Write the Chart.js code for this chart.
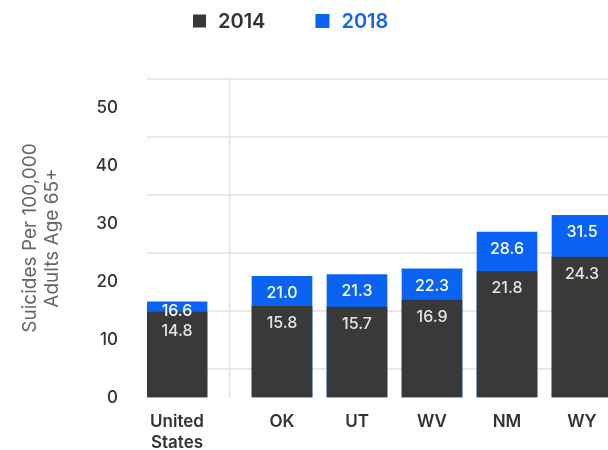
<!DOCTYPE html>
<html>
<head>
<meta charset="utf-8">
<script src="https://cdn.jsdelivr.net/npm/chart.js@4"></script>
<style>
  html, body { margin: 0; padding: 0; background: #fff; overflow: hidden; }
  #wrap { width: 645px; height: 450px; }
</style>
</head>
<body>
<div id="wrap"><canvas id="chart" width="645" height="450"></canvas></div>
<script>
// ---- data ----
const categories = [['United', 'States'], 'OK', 'UT', 'WV', 'NM', 'WY'];
const seriesLabels = ['2014', '2018'];
const rate2014 = [14.8, 15.8, 15.7, 16.9, 21.8, 24.3];
const rate2018 = [16.6, 21.0, 21.3, 22.3, 28.6, 31.5];
const yTickLabels = [0, 10, 20, 30, 40, 50];
const yGridLines = [5, 15, 25, 35, 45, 55];

// ---- look ----
const DARK = '#393939';
const BLUE = '#0a63f2';
const GAP = 0.4; // extra room between the US bar and the states
const FONT = 'Inter, "Open Sans", sans-serif';

Chart.defaults.font.family = FONT;

// US sits alone, states are pushed right by GAP
const xPos = i => i + (i > 0 ? GAP : 0);
const toPoints = arr => arr.map((v, i) => ({ x: xPos(i), y: v }));

// value labels inside the top of each bar (2014 front bar, 2018 back bar)
const valueLabels = {
    id: 'valueLabels',
    afterDatasetsDraw(chart) {
        const ctx = chart.ctx;
        const front = chart.getDatasetMeta(0).data;
        const back = chart.getDatasetMeta(1).data;
        ctx.save();
        ctx.font = '500 16px ' + FONT;
        ctx.textAlign = 'center';
        ctx.textBaseline = 'middle';
        back.forEach((bar, i) => {
            const gap = front[i].y - bar.y;
            const yBack = bar.y + (gap >= 26 ? 17 : 9);
            const yFront = Math.max(front[i].y + 17, yBack + 20);
            ctx.fillStyle = '#ffffff';
            ctx.fillText(rate2018[i].toFixed(1), bar.x, yBack);
            ctx.fillStyle = '#e4e4e4';
            ctx.fillText(rate2014[i].toFixed(1), front[i].x, yFront);
        });
        ctx.restore();
    }
};

// thin vertical rule between the US and the states
const separator = {
    id: 'separator',
    beforeDatasetsDraw(chart) {
        const { ctx, chartArea, scales } = chart;
        const x = scales.x.getPixelForValue((xPos(0) + xPos(1)) / 2);
        ctx.save();
        ctx.strokeStyle = '#e2e2e2';
        ctx.lineWidth = 1.5;
        ctx.beginPath();
        ctx.moveTo(x, chartArea.top);
        ctx.lineTo(x, chartArea.bottom);
        ctx.stroke();
        ctx.restore();
    }
};

// legend row at the top: square + coloured text
const legendRow = {
    id: 'legendRow',
    afterDraw(chart) {
        const ctx = chart.ctx;
        const colors = [DARK, BLUE];
        const textColors = ['#333333', '#1565e8'];
        let x = 193;
        const y = 21;
        ctx.save();
        ctx.font = '600 20px ' + FONT;
        ctx.textBaseline = 'middle';
        ctx.textAlign = 'left';
        seriesLabels.forEach((label, i) => {
            const box = i === 0 ? 13 : 14;
            ctx.fillStyle = colors[i];
            ctx.fillRect(x, y - box / 2, box, box);
            ctx.fillStyle = textColors[i];
            ctx.fillText(label, x + box + 12, y + 1);
            x += box + 12 + ctx.measureText(label).width + 50;
        });
        ctx.restore();
    }
};

new Chart(document.getElementById('chart'), {
    type: 'bar',
    data: {
        datasets: [
            {
                label: seriesLabels[0],
                data: toPoints(rate2014),
                backgroundColor: DARK,
                order: 1
            },
            {
                label: seriesLabels[1],
                data: toPoints(rate2018),
                backgroundColor: BLUE,
                order: 2
            }
        ]
    },
    options: {
        responsive: false,
        animation: false,
        grouped: false,
        barThickness: 60,
        layout: { autoPadding: false, padding: { top: 78, right: 0, bottom: 0, left: 0 } },
        plugins: {
            legend: { display: false },
            tooltip: { enabled: false }
        },
        scales: {
            x: {
                type: 'linear',
                offset: false,
                min: -0.4,
                max: 6.24,
                grid: { display: false, offset: false },
                border: { display: false },
                afterBuildTicks: s => { s.ticks = categories.map((c, i) => ({ value: xPos(i) })); },
                afterFit: s => { s.height = 52; },
                ticks: {
                    autoSkip: false,
                    maxRotation: 0,
                    padding: 6,
                    color: '#333333',
                    font: { size: 17, weight: '600' },
                    callback: (v, i) => categories[i]
                }
            },
            y: {
                min: 0,
                max: 55.2,
                border: { display: false },
                afterBuildTicks: s => {
                    s.ticks = [...yTickLabels, ...yGridLines]
                        .sort((a, b) => a - b)
                        .map(v => ({ value: v }));
                },
                afterFit: s => { s.width = 147; },
                grid: {
                    drawTicks: false,
                    lineWidth: 2,
                    color: c => (c.tick && yGridLines.includes(c.tick.value)) ? '#e8e8e8' : 'rgba(0,0,0,0)'
                },
                ticks: {
                    padding: 29,
                    color: '#333333',
                    font: { size: 17, weight: '500' },
                    callback: v => yTickLabels.includes(v) ? v : ''
                },
                title: {
                    display: true,
                    text: ['Suicides Per 100,000', 'Adults Age 65+'],
                    color: '#666666',
                    font: { size: 19, lineHeight: 1.16 },
                    padding: { top: 19, bottom: 0 }
                }
            }
        }
    },
    plugins: [separator, valueLabels, legendRow]
});
</script>
</body>
</html>
